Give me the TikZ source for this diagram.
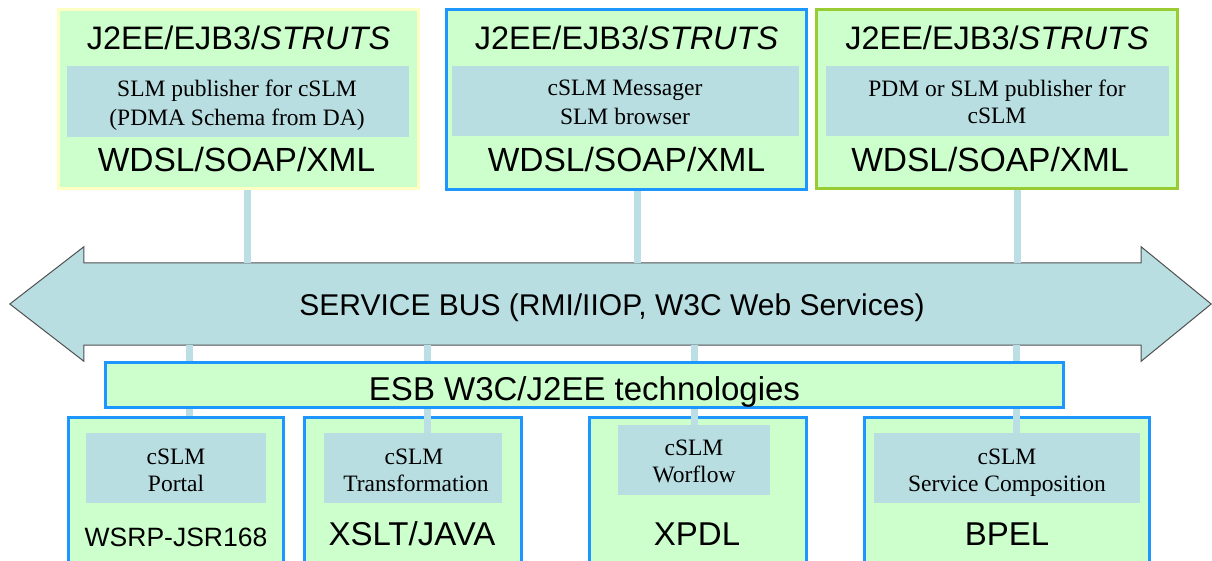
\documentclass[tikz,border=0pt]{standalone}
\usepackage{fontspec}
\setmainfont{Liberation Serif}
\newfontfamily\arialf{Liberation Sans}
\usetikzlibrary{calc}
\definecolor{boxgreen}{HTML}{CCFFCC}
\definecolor{lblue}{HTML}{B8DEE2}
\definecolor{connblue}{HTML}{BBDFE4}
\definecolor{bordblue}{HTML}{1E96FF}
\definecolor{bordyellow}{HTML}{FFFFC4}
\definecolor{bordgreen}{HTML}{99CC33}
\definecolor{busline}{HTML}{505050}
\begin{document}
\begin{tikzpicture}[x=1pt,y=-1pt,
  box/.style={draw=bordblue, line width=3pt, fill=boxgreen, inner sep=0pt},
  innerbox/.style={fill=lblue, inner sep=0pt},
  conn/.style={draw=connblue, line width=7pt},
  txt/.style={anchor=base, inner sep=0pt},
  serif/.style={txt, font=\fontsize{23.5pt}{27pt}\selectfont},
  sansA/.style={txt, font=\arialf\fontsize{32.5pt}{36pt}\selectfont},
  sansB/.style={txt, font=\arialf\fontsize{33.5pt}{36pt}\selectfont},
  sansC/.style={txt, font=\arialf\fontsize{30pt}{34pt}\selectfont},
  sansD/.style={txt, font=\arialf\fontsize{26.5pt}{30pt}\selectfont},
  sansE/.style={txt, font=\arialf\fontsize{33pt}{36pt}\selectfont},
  sansF/.style={txt, font=\arialf\fontsize{33pt}{36pt}\selectfont}
]
\useasboundingbox (0,0) rectangle (1212,560);
\clip (0,0) rectangle (1212,560);

% connector x positions
\coordinate (ca) at (247,0);
\coordinate (cb) at (637,0);
\coordinate (cc) at (1017,0);
\coordinate (cd) at (189,0);
\coordinate (ce) at (427,0);
\coordinate (cf) at (694,0);
\coordinate (cg) at (1016,0);

% ---------- top boxes ----------
\node[box, draw=bordyellow, minimum width=360pt, minimum height=179pt] (tb1) at (238.5,99) {};
\node[box, minimum width=360pt, minimum height=180pt] (tb2) at (626.5,99.5) {};
\node[box, draw=bordgreen, minimum width=361pt, minimum height=179pt] (tb3) at (997,99) {};

\node[innerbox, minimum width=342pt, minimum height=71pt] (ti1) at (238,101.5) {};
\node[innerbox, minimum width=347pt, minimum height=70pt] (ti2) at (625.5,101) {};
\node[innerbox, minimum width=343pt, minimum height=70pt] (ti3) at (997.5,101) {};

\node[sansA] (th1) at (238.5,49) {J2EE/EJB3/\textit{STRUTS}};
\node[sansA] (th2) at (626.5,49) {J2EE/EJB3/\textit{STRUTS}};
\node[sansA] (th3) at (997,49) {J2EE/EJB3/\textit{STRUTS}};

\node[serif] (t1a) at (237,96) {SLM publisher for cSLM};
\node[serif] (t1b) at (237,125) {(PDMA Schema from DA)};
\node[serif] (t2a) at (625,95) {cSLM Messager};
\node[serif] (t2b) at (625,124) {SLM browser};
\node[serif] (t3a) at (997,96) {PDM or SLM publisher for};
\node[serif] (t3b) at (997,123.5) {cSLM};

\node[sansB] (tf1) at (236.5,171) {WDSL/SOAP/XML};
\node[sansB] (tf2) at (626.5,171) {WDSL/SOAP/XML};
\node[sansB] (tf3) at (990,171) {WDSL/SOAP/XML};

% ---------- service bus ----------
\node[inner sep=0pt, minimum width=1057pt, minimum height=82pt] (bus) at (612.5,304) {};
\path[fill=lblue, draw=busline, line width=1pt, line join=miter]
  (bus.north west) -- ++(0,-16) -- ($(bus.west)+(-74,0)$) -- ($(bus.south west)+(0,16)$)
  -- (bus.south west) -- (bus.south east) -- ++(0,16) -- ($(bus.east)+(70,0)$)
  -- ($(bus.north east)+(0,-16)$) -- (bus.north east) -- cycle;
\node[sansC] (bustxt) at (612,315) {SERVICE BUS (RMI/IIOP, W3C Web Services)};

% top connectors
\draw[conn] (tb1.south -| ca) -- (bus.north -| ca);
\draw[conn] (tb2.south -| cb) -- (bus.north -| cb);
\draw[conn] (tb3.south -| cc) -- (bus.north -| cc);

% ---------- bottom boxes ----------
\node[box, minimum width=215pt, minimum height=158pt] (bb1) at (175.75,496) {};
\node[box, minimum width=217pt, minimum height=158pt] (bb2) at (413,496) {};
\node[box, minimum width=217pt, minimum height=158pt] (bb3) at (698,496) {};
\node[box, minimum width=285pt, minimum height=158pt] (bb4) at (1007,496) {};

\node[innerbox, minimum width=180pt, minimum height=70pt] (bi1) at (176,468) {};
\node[innerbox, minimum width=178pt, minimum height=70pt] (bi2) at (413,468) {};
\node[innerbox, minimum width=151.5pt, minimum height=70pt] (bi3) at (693.75,460) {};
\node[innerbox, minimum width=266pt, minimum height=70pt] (bi4) at (1007,468) {};

\node[serif] (b1a) at (176,464) {cSLM};
\node[serif] (b1b) at (176,491) {Portal};
\node[serif] (b2a) at (414,464) {cSLM};
\node[serif] (b2b) at (416,491) {Transformation};
\node[serif] (b3a) at (694,455) {cSLM};
\node[serif] (b3b) at (694,482) {Worflow};
\node[serif] (b4a) at (1007,464) {cSLM};
\node[serif] (b4b) at (1007,491) {Service Composition};

\node[sansD] (bf1) at (176,546) {WSRP-JSR168};
\node[sansE] (bf2) at (412,545) {XSLT/JAVA};
\node[sansE] (bf3) at (697,545) {XPDL};
\node[sansE] (bf4) at (1007,545) {BPEL};

% lower connectors
\draw[conn] (bus.south -| cd) -- (bb1.north -| cd);
\draw[conn] (bus.south -| ce) -- (bi2.north -| ce);
\draw[conn] (bus.south -| cf) -- (bi3.north -| cf);
\draw[conn] (bus.south -| cg) -- (bi4.north -| cg);

% ---------- ESB ----------
\node[box, minimum width=958pt, minimum height=45pt] (esb) at (584.5,385) {};
\node[sansF] (esbtxt) at (584.5,400) {ESB W3C/J2EE technologies};

\end{tikzpicture}
\end{document}
